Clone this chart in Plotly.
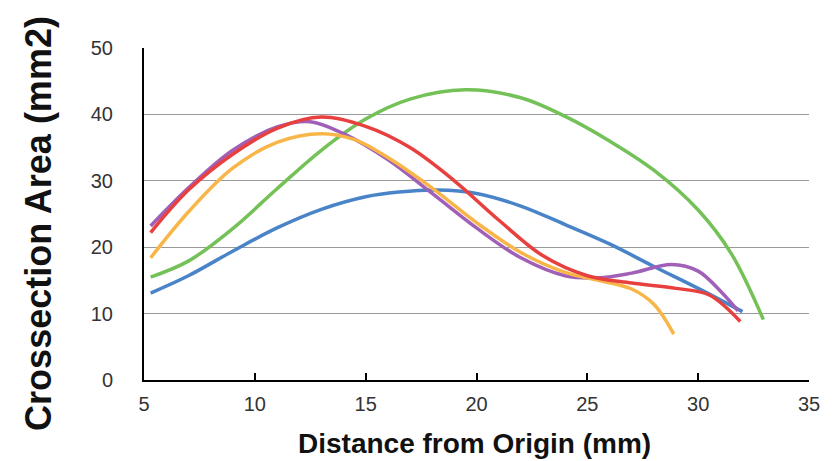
import plotly.graph_objects as go

blue_x = [5.3, 7, 9, 11, 13, 15, 16.5, 18.2, 20, 22, 24, 26, 28, 30, 32]
blue_y = [13.1, 15.7, 19.4, 22.9, 25.7, 27.6, 28.3, 28.6, 28.1, 26.2, 23.4, 20.5, 17.1, 13.8, 10.3]

green_x = [5.3, 7, 9, 11, 13, 15, 17, 19.5, 22, 24, 26, 28, 30, 31.5, 32.94]
green_y = [15.5, 17.9, 22.8, 28.8, 34.6, 39.3, 42.3, 43.7, 42.5, 39.7, 36.0, 31.6, 25.6, 19.0, 9.1]

purple_x = [5.3, 7, 9, 11, 12.5, 14, 16, 18, 20, 22, 24, 25.5, 27, 28.8, 30, 31, 31.8]
purple_y = [23.2, 28.9, 34.6, 38.1, 38.9, 37.1, 33.2, 28.1, 22.9, 18.4, 15.7, 15.4, 16.1, 17.4, 16.4, 13.4, 10.4]

orange_x = [5.3, 7, 9, 11, 13, 14.5, 16, 18, 20, 22, 24, 25.5, 27, 28, 28.9]
orange_y = [18.4, 25.3, 31.9, 35.8, 37.1, 36.2, 33.5, 28.9, 23.7, 19.2, 16.2, 15.0, 13.7, 11.4, 6.9]

red_x = [5.3, 7, 9, 11, 13, 15, 17, 19, 21, 23, 25, 27, 29, 30.5, 31.9]
red_y = [22.2, 28.6, 34.0, 37.9, 39.6, 38.2, 35.0, 30.0, 24.1, 18.7, 15.7, 14.6, 13.8, 12.8, 8.8]

x_ticks = [5, 10, 15, 20, 25, 30, 35]
y_ticks = [0, 10, 20, 30, 40, 50]

series = [
    (blue_x, blue_y, "#4a84c8"),
    (green_x, green_y, "#74c158"),
    (purple_x, purple_y, "#a160b8"),
    (orange_x, orange_y, "#f8b648"),
    (red_x, red_y, "#e8403f"),
]

fig = go.Figure()
for xs, ys, c in series:
    fig.add_trace(go.Scatter(x=xs, y=ys, mode="lines",
                             line=dict(color=c, width=3.5, shape="spline", smoothing=1.0),
                             showlegend=False, hoverinfo="skip"))

fig.update_layout(
    width=835, height=461,
    margin=dict(l=136, r=34, t=40, b=89),
    paper_bgcolor="white", plot_bgcolor="white",
    font=dict(family="Liberation Sans, Arial, sans-serif", color="#333333", size=20),
    xaxis=dict(range=[5, 35], tickvals=x_ticks, showgrid=False, zeroline=False,
               showline=True, linecolor="black", linewidth=2,
               ticks="inside", ticklen=7, tickwidth=2, tickcolor="black",
               ticklabelstandoff=5,
               tickfont=dict(size=20, color="#333333")),
    yaxis=dict(range=[0, 50], tickvals=y_ticks, showgrid=True, gridcolor="#9a9a9a", gridwidth=1,
               zeroline=False, showline=True, linecolor="black", linewidth=2,
               ticks="", ticklabelstandoff=25,
               tickfont=dict(size=20, color="#333333")),
    annotations=[
        dict(text="<b>Crossection Area (mm2)</b>", xref="paper", yref="paper",
             x=-0.158, y=0.473, textangle=-90, showarrow=False,
             font=dict(size=36, color="#111111"), xanchor="center", yanchor="middle"),
        dict(text="<b>Distance from Origin (mm)</b>", xref="paper", yref="paper",
             x=0.497, y=-0.19, showarrow=False,
             font=dict(size=28, color="#111111"), xanchor="center", yanchor="middle"),
    ],
)

fig.write_html("out.html")
